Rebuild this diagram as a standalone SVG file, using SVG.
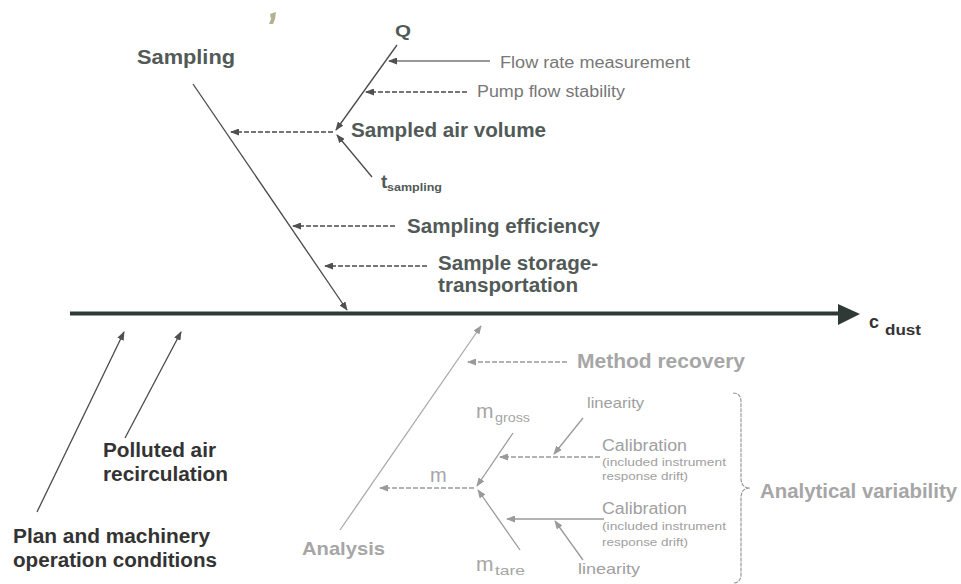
<svg xmlns="http://www.w3.org/2000/svg" width="961" height="584" viewBox="0 0 961 584">
<style>
text{font-family:"Liberation Sans",Arial,Helvetica,sans-serif}
.b{font-weight:bold}
.dk{fill:#525a58}
.bl{fill:#333}
.lt{fill:#777}
.gy{fill:#a6a6a6}
.gs{fill:#a0a0a0}
.ln{fill:none;stroke-width:1.3}
.lnd{stroke:#4a4a4a}
.lng{stroke:#9a9a9a}
.d{stroke-dasharray:5 2}
</style>
<defs>
<marker id="ad" markerUnits="userSpaceOnUse" markerWidth="9" markerHeight="7" refX="8" refY="3.5" orient="auto"><path d="M0,0 L9,3.5 L0,7 z" fill="#505050"/></marker>
<marker id="ag" markerUnits="userSpaceOnUse" markerWidth="9" markerHeight="7" refX="8" refY="3.5" orient="auto"><path d="M0,0 L9,3.5 L0,7 z" fill="#9a9a9a"/></marker>
</defs>

<polygon points="270,14 276,12 275,19 273,24 269,24 271,19" fill="#b3b190"/>

<g id="connectors">
  <line x1="70" y1="313.5" x2="842" y2="313.5" stroke="#2f3a36" stroke-width="4"/>
  <path d="M838,304 L860,314 L838,325 z" fill="#2f3a36"/>
  <line class="ln lnd" x1="193" y1="84" x2="347" y2="310" marker-end="url(#ad)"/>
  <line class="ln lnd" x1="397" y1="45" x2="336" y2="130" marker-end="url(#ad)"/>
  <line class="ln lnd" x1="372" y1="177" x2="337" y2="135" marker-end="url(#ad)"/>
  <line class="ln" stroke="#777" x1="490" y1="61" x2="389" y2="61" marker-end="url(#ad)"/>
  <line class="ln lnd d" x1="467" y1="92" x2="366" y2="92" marker-end="url(#ad)"/>
  <line class="ln lnd d" x1="333" y1="132" x2="231" y2="132" marker-end="url(#ad)"/>
  <line class="ln lnd d" x1="395" y1="226" x2="293" y2="226" marker-end="url(#ad)"/>
  <line class="ln lnd d" x1="427" y1="266" x2="325" y2="266" marker-end="url(#ad)"/>
  <line class="ln lnd" x1="37" y1="512" x2="124" y2="332" marker-end="url(#ad)"/>
  <line class="ln lnd" x1="125" y1="438" x2="181" y2="332" marker-end="url(#ad)"/>
  <line class="ln" stroke="#aaa" x1="340" y1="530" x2="481" y2="326" marker-end="url(#ag)"/>
  <line class="ln lng d" x1="567" y1="362" x2="468" y2="362" marker-end="url(#ag)"/>
  <line class="ln lng" x1="513" y1="433" x2="477" y2="486" marker-end="url(#ag)"/>
  <line class="ln lng" x1="520" y1="550" x2="478" y2="490" marker-end="url(#ag)"/>
  <line class="ln lng d" x1="474" y1="488" x2="380" y2="488" marker-end="url(#ag)"/>
  <line class="ln lng d" x1="600" y1="457" x2="500" y2="457" marker-end="url(#ag)"/>
  <line class="ln lng" x1="583" y1="418" x2="554" y2="454" marker-end="url(#ag)"/>
  <line class="ln lng" x1="604" y1="519" x2="507" y2="519" marker-end="url(#ag)"/>
  <line class="ln lng" x1="583" y1="560" x2="555" y2="521" marker-end="url(#ag)"/>
  <path d="M733,393 Q741,393 741,402 L741,478 Q741,488 750,488 Q741,488 741,498 L741,574 Q741,583 733,583" fill="none" stroke="#9a9a9a" stroke-width="1.2" stroke-dasharray="4 1"/>
</g>

<g id="sampling"><text class="b dk" x="137" y="64" font-size="21" textLength="98" lengthAdjust="spacingAndGlyphs">Sampling</text></g>
<g id="q"><text class="b dk" x="395" y="37" font-size="17" textLength="16" lengthAdjust="spacingAndGlyphs">Q</text></g>
<g id="flowrate"><text class="lt" x="500" y="68" font-size="16" textLength="190" lengthAdjust="spacingAndGlyphs">Flow rate measurement</text></g>
<g id="pumpflow"><text class="lt" x="477" y="97" font-size="16" textLength="148" lengthAdjust="spacingAndGlyphs">Pump flow stability</text></g>
<g id="sampledair"><text class="b dk" x="351" y="137" font-size="20" textLength="195" lengthAdjust="spacingAndGlyphs">Sampled air volume</text></g>
<g id="tsampling"><text class="b dk" x="381" y="188" font-size="19">t</text><text class="b dk" x="387" y="191" font-size="11" textLength="55" lengthAdjust="spacingAndGlyphs">sampling</text></g>
<g id="samplingeff"><text class="b dk" x="407" y="233" font-size="20.5" textLength="193" lengthAdjust="spacingAndGlyphs">Sampling efficiency</text></g>
<g id="storage"><text class="b dk" x="438" y="270" font-size="20" textLength="160" lengthAdjust="spacingAndGlyphs">Sample storage-</text><text class="b dk" x="438" y="292" font-size="20" textLength="140" lengthAdjust="spacingAndGlyphs">transportation</text></g>
<g id="cdust"><text class="b bl" x="869" y="328" font-size="18">c</text><text class="b bl" x="885" y="335" font-size="14" textLength="36" lengthAdjust="spacingAndGlyphs">dust</text></g>
<g id="polluted"><text class="b bl" x="103" y="457" font-size="20" textLength="113" lengthAdjust="spacingAndGlyphs">Polluted air</text><text class="b bl" x="103" y="481" font-size="20" textLength="125" lengthAdjust="spacingAndGlyphs">recirculation</text></g>
<g id="plan"><text class="b bl" x="13" y="543" font-size="20" textLength="197" lengthAdjust="spacingAndGlyphs">Plan and machinery</text><text class="b bl" x="13" y="567" font-size="20" textLength="204" lengthAdjust="spacingAndGlyphs">operation conditions</text></g>
<g id="analysis"><text class="b gy" x="302" y="555" font-size="19" textLength="83" lengthAdjust="spacingAndGlyphs">Analysis</text></g>
<g id="method"><text class="b gy" x="577" y="368" font-size="20.5" textLength="168" lengthAdjust="spacingAndGlyphs">Method recovery</text></g>
<g id="mgross"><text class="gy" x="476" y="418" font-size="21">m</text><text class="gy" x="495" y="422" font-size="13" textLength="35" lengthAdjust="spacingAndGlyphs">gross</text></g>
<g id="m"><text class="gy" x="430" y="482" font-size="20">m</text></g>
<g id="mtare"><text class="gy" x="476" y="571" font-size="21">m</text><text class="gy" x="495" y="575" font-size="13" textLength="30" lengthAdjust="spacingAndGlyphs">tare</text></g>
<g id="linearity1"><text class="gs" x="587" y="408" font-size="15" textLength="57" lengthAdjust="spacingAndGlyphs">linearity</text></g>
<g id="calibration1"><text class="gs" x="602" y="451" font-size="16" textLength="85" lengthAdjust="spacingAndGlyphs">Calibration</text><text class="gs" x="602" y="466" font-size="11" textLength="124" lengthAdjust="spacingAndGlyphs">(included instrument</text><text class="gs" x="602" y="480" font-size="11" textLength="86" lengthAdjust="spacingAndGlyphs">response drift)</text></g>
<g id="calibration2"><text class="gs" x="602" y="514" font-size="16" textLength="85" lengthAdjust="spacingAndGlyphs">Calibration</text><text class="gs" x="602" y="530" font-size="11" textLength="124" lengthAdjust="spacingAndGlyphs">(included instrument</text><text class="gs" x="602" y="546" font-size="11" textLength="86" lengthAdjust="spacingAndGlyphs">response drift)</text></g>
<g id="linearity2"><text class="gs" x="578" y="574" font-size="15" textLength="62" lengthAdjust="spacingAndGlyphs">linearity</text></g>
<g id="analytical"><text class="b gy" x="760" y="498" font-size="20.5" textLength="197" lengthAdjust="spacingAndGlyphs">Analytical variability</text></g>
</svg>
